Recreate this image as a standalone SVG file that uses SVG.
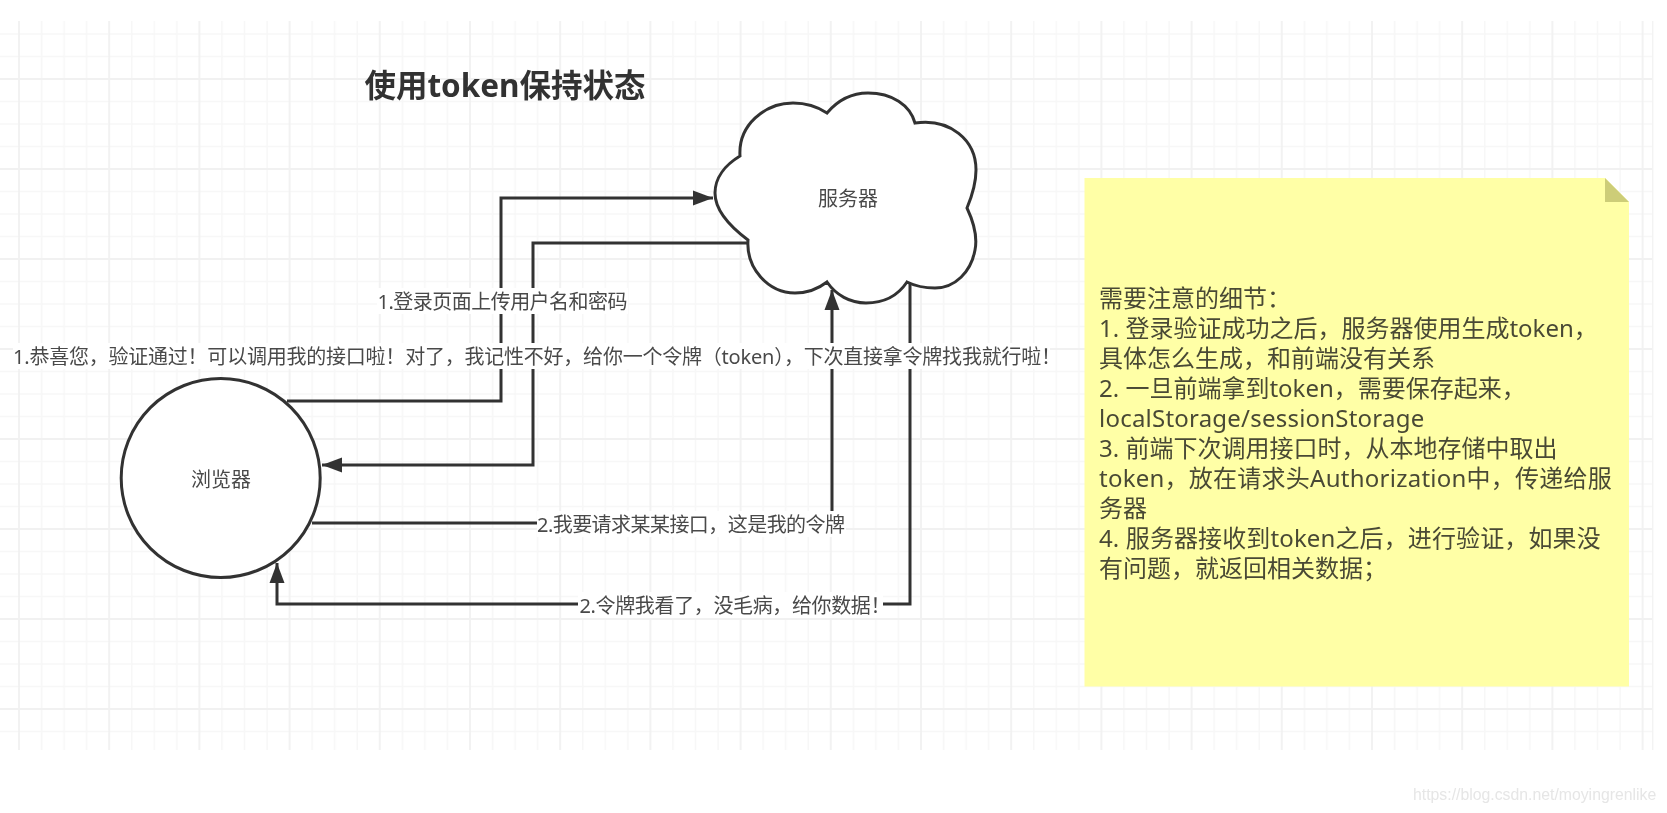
<svg xmlns="http://www.w3.org/2000/svg" width="1667" height="813" viewBox="0 0 1667 813">
  <style>
    text { font-family: "Noto Sans", "Noto Sans CJK SC", sans-serif; fill: #4a4a4a; }
    .shape { fill: #fff; stroke: #333; stroke-width: 3; }
    .conn { fill: none; stroke: #333; stroke-width: 3; }
    .lbl { font-size: 20px; dominant-baseline: central; }
    .mid { text-anchor: middle; }
    .bg { fill: #fff; }
    .note { font-size: 24px; fill: #4a4a35; }
  </style>
  <defs>
    <marker id="arrow" markerUnits="userSpaceOnUse" markerWidth="21" markerHeight="16" refX="20" refY="8" orient="auto">
      <path d="M0 0.5 L20 8 L0 15.5 Z" fill="#333"/>
    </marker>
    <pattern id="grid" patternUnits="userSpaceOnUse" x="17" y="77" width="90.2" height="90">
      <path d="M24.55 0V90M47.1 0V90M69.65 0V90M0 24.5H90.2M0 47H90.2M0 69.5H90.2" fill="none" stroke="#f7f7f7" stroke-width="1.6"/>
      <path d="M2 0V90M0 2H90.2" fill="none" stroke="#f1f1f1" stroke-width="1.8"/>
    </pattern>
    <filter id="soft" x="0" y="0" width="100%" height="100%" filterUnits="userSpaceOnUse">
      <feGaussianBlur stdDeviation="0.45"/>
    </filter>
  </defs>
  <rect width="1667" height="813" fill="#fff"/>
  <g filter="url(#soft)">
    <rect x="0" y="21" width="1653" height="729" fill="url(#grid)"/>
    <path d="M1652.7 21V750" stroke="#f3f3f3" stroke-width="1.5"/>

    <g id="connectors">
      <path class="conn" marker-end="url(#arrow)" d="M287 401H501V198H713"/>
      <path class="conn" marker-end="url(#arrow)" d="M749 243H533V465H322"/>
      <path class="conn" marker-end="url(#arrow)" d="M312 523H832V290"/>
      <path class="conn" marker-end="url(#arrow)" d="M910 284V604H277V563"/>
    </g>

    <g id="server">
      <path class="shape" d="M740 156C738 125 765 103 793 103C806 103 818 107 827 113C838 100 852 93 868 93C892 93 910 105 915 123C950 118 976 140 976 170C976 182 972 196 967 208C975 225 977 240 975 250C971 272 955 288 935 288C925 288 915 286 907 282C897 297 882 303 866 303C850 303 836 295 827 282C818 289 808 293 795 293C768 293 746 268 748 240C732 228 715 212 715 193C715 178 725 165 740 156Z"/>
      <text class="lbl mid" x="848" y="198">服务器</text>
    </g>
    <g id="browser">
      <circle class="shape" cx="220.7" cy="478" r="99.5"/>
      <text class="lbl mid" x="221" y="479">浏览器</text>
    </g>

    <g id="labels">
      <rect class="bg" x="377" y="288" width="251" height="26"/>
      <text class="lbl" x="377.5" y="301" textLength="250">1.登录页面上传用户名和密码</text>
      <rect class="bg" x="13" y="343" width="1037" height="26"/>
      <text class="lbl" x="13" y="356" textLength="1048">1.恭喜您，验证通过！可以调用我的接口啦！对了，我记性不好，给你一个令牌（token），下次直接拿令牌找我就行啦！</text>
      <rect class="bg" x="537" y="511" width="309" height="26"/>
      <text class="lbl" x="537" y="524" textLength="308">2.我要请求某某接口，这是我的令牌</text>
      <rect class="bg" x="578" y="592" width="305" height="26"/>
      <text class="lbl" x="579.5" y="605" textLength="311">2.令牌我看了，没毛病，给你数据！</text>
    </g>

    <text x="505" y="84.5" font-size="31.5" font-weight="700" text-anchor="middle" dominant-baseline="central" style="fill:#333">使用token保持状态</text>

    <g id="note">
      <path d="M1084.5 178H1605L1629 202V686.5H1084.5Z" fill="#ffffa6"/>
      <path d="M1605 178L1629 202H1605Z" fill="#cdcd78"/>
      <text class="note">
        <tspan x="1099" y="307">需要注意的细节：</tspan>
        <tspan x="1099" y="337">1. 登录验证成功之后，服务器使用生成token，</tspan>
        <tspan x="1099" y="367">具体怎么生成，和前端没有关系</tspan>
        <tspan x="1099" y="397">2. 一旦前端拿到token，需要保存起来，</tspan>
        <tspan x="1099" y="427" letter-spacing="0.22">localStorage/sessionStorage</tspan>
        <tspan x="1099" y="457">3. 前端下次调用接口时，从本地存储中取出</tspan>
        <tspan x="1099" y="487" letter-spacing="0.25">token，放在请求头Authorization中，传递给服</tspan>
        <tspan x="1099" y="517">务器</tspan>
        <tspan x="1099" y="547" letter-spacing="0.12">4. 服务器接收到token之后，进行验证，如果没</tspan>
        <tspan x="1099" y="577">有问题，就返回相关数据；</tspan>
      </text>
    </g>

    <text x="1413" y="800" font-size="15.8" style="font-family:'Liberation Sans',sans-serif;fill:#e6e6e6">https://blog.csdn.net/moyingrenlike</text>
  </g>
</svg>
